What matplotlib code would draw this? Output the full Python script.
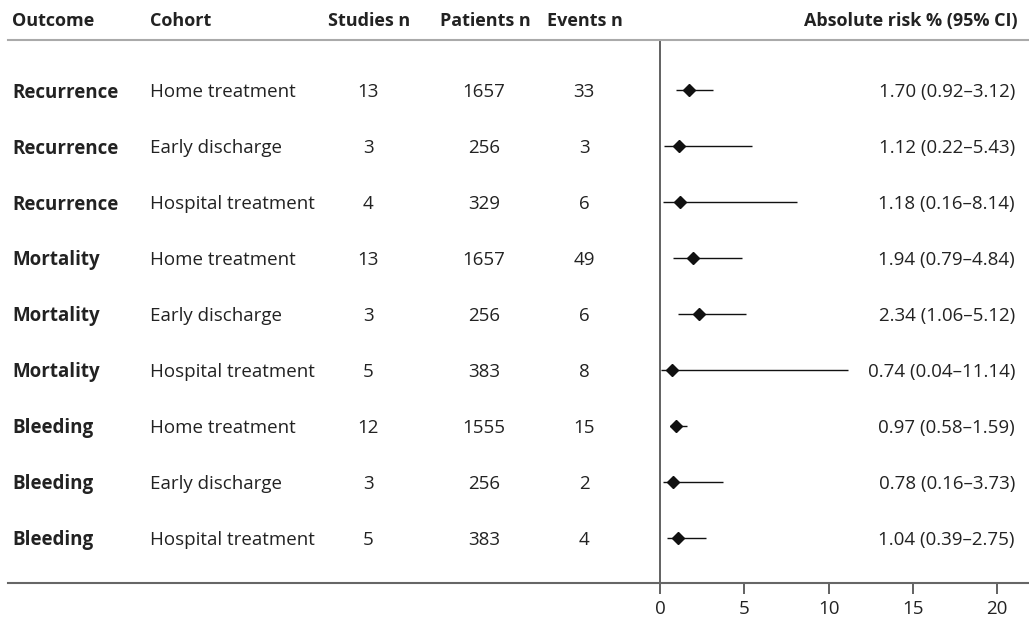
import matplotlib.pyplot as plt
from matplotlib.transforms import blended_transform_factory
from matplotlib.lines import Line2D

# Data
outcomes = ["Recurrence"] * 3 + ["Mortality"] * 3 + ["Bleeding"] * 3
cohorts = ["Home treatment", "Early discharge", "Hospital treatment"] * 3
studies = [13, 3, 4, 13, 3, 5, 12, 3, 5]
patients = [1657, 256, 329, 1657, 256, 383, 1555, 256, 383]
events = [33, 3, 6, 49, 6, 8, 15, 2, 4]
risk = [1.70, 1.12, 1.18, 1.94, 2.34, 0.74, 0.97, 0.78, 1.04]
lower = [0.92, 0.22, 0.16, 0.79, 1.06, 0.04, 0.58, 0.16, 0.39]
upper = [3.12, 5.43, 8.14, 4.84, 5.12, 11.14, 1.59, 3.73, 2.75]
xticks = [0, 5, 10, 15, 20]

W, H = 1029, 620
fig = plt.figure(figsize=(W / 100, H / 100), dpi=100)
plt.rcParams['font.family'] = ['Open Sans', 'DejaVu Sans']

txt = '#222222'
top_px, bot_px = 40, 583
ax = fig.add_axes([660 / W, 1 - bot_px / H, (W - 660) / W, (bot_px - top_px) / H])
ax.set_xlim(0, (W - 660) / 16.86)
ax.set_ylim(8 + 45 / 56, -50 / 56)

# forest marks
n = len(risk)
rows = list(range(n))
ax.hlines(rows, lower, upper, color='#111111', lw=1)
ax.plot(risk, rows, 'D', color='#111111', ms=6.5, ls='none')

for s in ['top', 'right', 'bottom']:
    ax.spines[s].set_visible(False)
ax.spines['left'].set_color('#555555')
ax.spines['left'].set_linewidth(1.3)
ax.set_yticks([])
ax.set_xticks(xticks)
ax.tick_params(axis='x', length=8, width=1.3, color='#555555', labelsize=13.5,
               labelcolor=txt, pad=4)
ax.patch.set_alpha(0)

# horizontal rules
fig.add_artist(Line2D([8 / W, 1], [1 - top_px / H] * 2, color='#aaaaaa', lw=1.5,
                      transform=fig.transFigure))
fig.add_artist(Line2D([8 / W, 1], [1 - bot_px / H] * 2, color='#666666', lw=1.5,
                      transform=fig.transFigure))

# table text
tr = blended_transform_factory(fig.transFigure, ax.transData)
fs = 13.5
hy = 1 - 19 / H
headers = [("Outcome", 12, 'left'), ("Cohort", 150, 'left'), ("Studies n", 369, 'center'),
           ("Patients n", 485, 'center'), ("Events n", 585, 'center'),
           ("Absolute risk % (95% CI)", 1018, 'right')]
for label, xp, ha in headers:
    fig.text(xp / W, hy, label, ha=ha, va='center_baseline', fontsize=fs - 0.5,
             fontweight='bold', color=txt)

for i in range(n):
    kw = dict(transform=tr, va='center_baseline', fontsize=fs, color=txt)
    fig.text(12 / W, i, outcomes[i], ha='left', fontweight='bold', **kw)
    fig.text(150 / W, i, cohorts[i], ha='left', **kw)
    fig.text(368 / W, i, str(studies[i]), ha='center', **kw)
    fig.text(484 / W, i, str(patients[i]), ha='center', **kw)
    fig.text(584 / W, i, str(events[i]), ha='center', **kw)
    fig.text(1015 / W, i, f"{risk[i]:.2f} ({lower[i]:.2f}\u2013{upper[i]:.2f})",
             ha='right', **kw)

fig.savefig('out.png', dpi=100)
